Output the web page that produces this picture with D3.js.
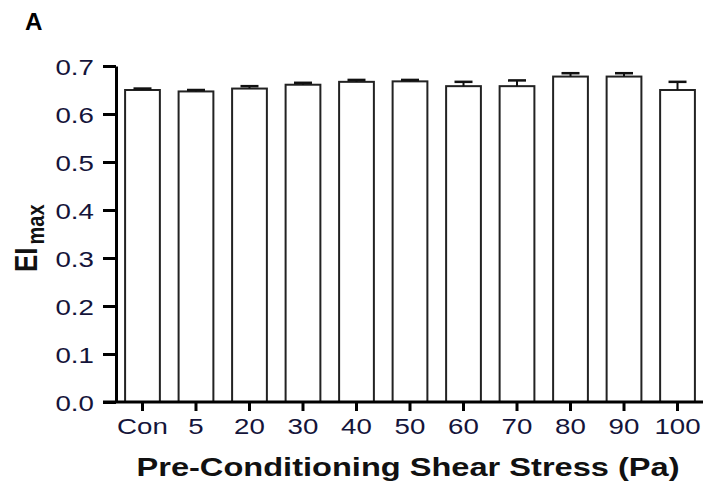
<!DOCTYPE html>
<html>
<head>
<meta charset="utf-8">
<script src="https://cdn.jsdelivr.net/npm/d3@7"></script>
<style>
  body { margin: 0; background: #fff; }
  svg { display: block; font-family: Arial, "Liberation Sans", sans-serif; }
</style>
</head>
<body>
<div id="chart"></div>
<script>
const categories = ["Con", "5", "20", "30", "40", "50", "60", "70", "80", "90", "100"];
const means = [0.650, 0.647, 0.653, 0.661, 0.667, 0.668, 0.658, 0.658, 0.678, 0.678, 0.650];
const errors = [0.003, 0.003, 0.005, 0.004, 0.004, 0.003, 0.009, 0.012, 0.007, 0.007, 0.017];
const yTicks = [0.0, 0.1, 0.2, 0.3, 0.4, 0.5, 0.6, 0.7];

const width = 705;
const height = 482;
const stretch = 1.23; // text in the original is drawn a bit wide
const textColor = "#14143a";

const svg = d3.select("#chart")
  .append("svg")
  .attr("width", width)
  .attr("height", height);

const x = d3.scaleBand()
  .domain(categories)
  .range([116, 704])
  .paddingInner(0.35)
  .paddingOuter(0.17);

const y = d3.scaleLinear()
  .domain([0, 0.7])
  .range([402, 66]);

// bars
svg.append("g")
  .selectAll("rect")
  .data(categories)
  .join("rect")
  .attr("x", d => x(d))
  .attr("y", (d, i) => y(means[i]))
  .attr("width", x.bandwidth())
  .attr("height", (d, i) => y(0) - y(means[i]))
  .attr("fill", "#fff")
  .attr("stroke", "#222")
  .attr("stroke-width", 2);

// error bars (upper only)
const err = svg.append("g").attr("stroke", "#111");
categories.forEach((c, i) => {
  const cx = x(c) + x.bandwidth() / 2;
  err.append("line")
    .attr("x1", cx).attr("x2", cx)
    .attr("y1", y(means[i])).attr("y2", y(means[i] + errors[i]))
    .attr("stroke-width", 2);
  err.append("line")
    .attr("x1", cx - 9).attr("x2", cx + 9)
    .attr("y1", y(means[i] + errors[i])).attr("y2", y(means[i] + errors[i]))
    .attr("stroke-width", 2.5);
});

// y axis
const yAxis = svg.append("g")
  .attr("transform", "translate(116,0)")
  .call(d3.axisLeft(y).tickValues(yTicks).tickFormat(d3.format(".1f")).tickSizeInner(13).tickSizeOuter(0).tickPadding(5));

// x axis
const xAxis = svg.append("g")
  .attr("transform", "translate(0,402)")
  .call(d3.axisBottom(x).tickSizeInner(9).tickSizeOuter(0).tickPadding(7));

[yAxis, xAxis].forEach(ax => {
  ax.select(".domain").attr("stroke", "#000").attr("stroke-width", 3);
  ax.selectAll(".tick line").attr("stroke", "#000").attr("stroke-width", 3);
  ax.selectAll(".tick text")
    .attr("fill", textColor)
    .attr("font-size", 22.5)
    .attr("transform", `scale(${stretch},1)`);
});
xAxis.select(".domain").attr("d", "M103,0H703");
yAxis.selectAll(".tick text").attr("dy", "0.36em");
xAxis.selectAll(".tick text").attr("dy", "0.72em");

// x title
svg.append("text")
  .attr("x", 408)
  .attr("y", 476)
  .attr("text-anchor", "middle")
  .attr("font-size", 26)
  .attr("font-weight", "bold")
  .attr("fill", "#111")
  .attr("textLength", 543)
  .attr("lengthAdjust", "spacingAndGlyphs")
  .text("Pre-Conditioning Shear Stress (Pa)");

// y title
const yt = svg.append("text")
  .attr("transform", `translate(37,272) scale(${stretch},1) rotate(-90)`)
  .attr("font-weight", "bold")
  .attr("fill", "#111");
yt.append("tspan").attr("font-size", 26).text("EI");
yt.append("tspan").attr("font-size", 20).attr("dx", 3).attr("dy", 6).text("max");

// panel letter
svg.append("text")
  .attr("transform", `translate(25,29.5) scale(1.05,1)`)
  .attr("font-size", 23)
  .attr("font-weight", "bold")
  .attr("fill", "#000")
  .text("A");
</script>
</body>
</html>
